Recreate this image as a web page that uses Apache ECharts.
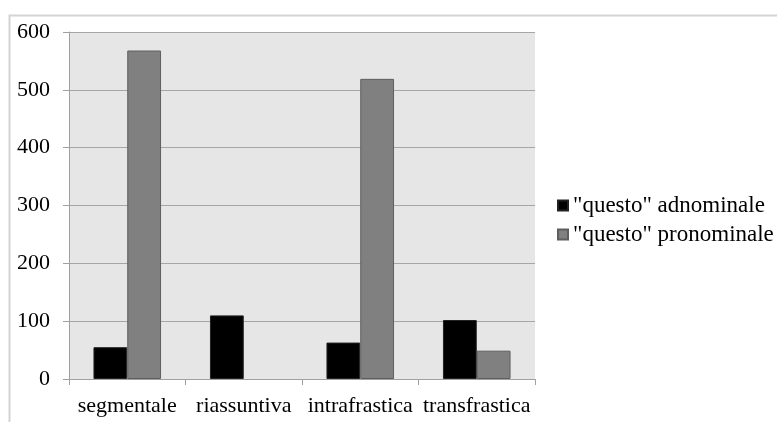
<!DOCTYPE html>
<html>
<head>
<meta charset="utf-8">
<script src="https://cdn.jsdelivr.net/npm/echarts@6/dist/echarts.min.js"></script>
<style>html,body{margin:0;padding:0;background:#fff}#c{width:777px;height:422px}</style>
</head>
<body>
<div id="c"></div>
<script>
var categories = ['segmentale', 'riassuntiva', 'intrafrastica', 'transfrastica'];
var seriesNames = ['"questo" adnominale', '"questo" pronominale'];
var adnominale = [55, 110, 63, 102];
var pronominale = [568, 0, 519, 49];
var yTicks = [0, 100, 200, 300, 400, 500, 600];

var chart = echarts.init(document.getElementById('c'), null, {renderer: 'canvas'});
var font = '"Liberation Serif", "Times New Roman", serif';
chart.setOption({
  animation: false,
  backgroundColor: '#fff',
  graphic: [{
    type: 'rect', left: 7, top: 13,
    shape: {width: 800, height: 430},
    style: {fill: 'none', stroke: '#d4d4d4', lineWidth: 2},
    silent: true
  }],
  grid: {left: 69, top: 32, right: 242, bottom: 43, show: true, backgroundColor: '#e6e6e6', borderWidth: 0},
  legend: {
    orient: 'vertical', left: 552, top: 189,
    itemWidth: 10, itemHeight: 10, itemGap: 6, icon: 'rect',
    textStyle: {fontFamily: font, fontSize: 23, color: '#000'},
    data: seriesNames
  },
  xAxis: {
    type: 'category', data: categories,
    axisLine: {show: true, lineStyle: {color: '#a0a0a0', width: 1}},
    axisTick: {show: true, length: 6, alignWithLabel: false, lineStyle: {color: '#a0a0a0'}},
    axisLabel: {interval: 0, fontFamily: font, fontSize: 22, color: '#000', margin: 16},
    splitLine: {show: false}
  },
  yAxis: {
    type: 'value', min: yTicks[0], max: yTicks[yTicks.length - 1], interval: 100,
    axisLine: {show: true, lineStyle: {color: '#a0a0a0', width: 1}},
    axisTick: {show: true, length: 6, lineStyle: {color: '#a0a0a0'}},
    axisLabel: {fontFamily: font, fontSize: 22, color: '#000', margin: 19},
    splitLine: {show: true, lineStyle: {color: '#a6a6a6', width: 1}}
  },
  series: [
    {name: seriesNames[0], type: 'bar', data: adnominale, barGap: '0%', barCategoryGap: '42%',
     itemStyle: {color: '#000000', borderColor: '#222', borderWidth: 1}},
    {name: seriesNames[1], type: 'bar', data: pronominale.map(function (v) { return v === 0 ? '-' : v; }),
     barGap: '0%', barCategoryGap: '42%',
     itemStyle: {color: '#808080', borderColor: '#5e5e5e', borderWidth: 1}}
  ]
});
</script>
</body>
</html>
